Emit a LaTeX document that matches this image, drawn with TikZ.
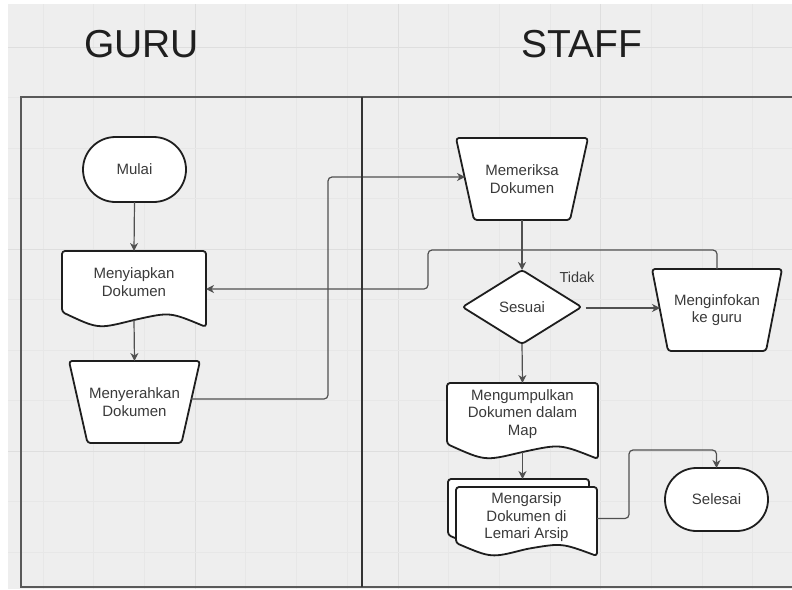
\documentclass[tikz,border=0pt]{standalone}
\usepackage{fontspec}
\setmainfont{Liberation Sans}
\usetikzlibrary{arrows.meta,calc,shapes.misc}

\pgfdeclarelayer{canvas}
\pgfdeclarelayer{outlines}
\pgfsetlayers{canvas,outlines,main}

\definecolor{canvasbg}{HTML}{EEEEEE}
\definecolor{gridminor}{HTML}{E7E7E7}
\definecolor{gridmajor}{HTML}{DEDEDE}
\definecolor{ink}{HTML}{1E1E1E}
\definecolor{txtgray}{HTML}{3A3A3A}
\definecolor{wire}{HTML}{505050}

% outline of a flowchart "document" box spanned by node #1; #2 = rise of the left end
\newcommand\docoutline[2]{%
  (#1.north west) -- (#1.north east) -- (#1.south east)
  .. controls ($(#1.south east)!0.25!(#1.south west)+(0pt,#2)$) .. ($(#1.south)+(0pt,7pt)$)
  .. controls ($(#1.south east)!0.75!(#1.south west)+(0pt,-2pt)$) .. ($(#1.south west)+(0pt,#2)$)
  -- cycle}
% outline of a "manual operation" box (wide top) spanned by node #1; #2 = inset at the bottom
\newcommand\trapoutline[2]{%
  (#1.north west) -- (#1.north east) -- ([xshift=-#2]#1.south east)
  -- ([xshift=#2]#1.south west) -- cycle}
% outline of a decision diamond spanned by node #1
\newcommand\diaoutline[1]{(#1.north) -- (#1.east) -- (#1.south) -- (#1.west) -- cycle}

\tikzset{
  holder/.style={rectangle, inner sep=0pt, outer sep=0pt},
  lbl/.style={inner sep=0pt, outer sep=0pt, text=txtgray, align=center,
    font=\fontsize{15}{17.5}\selectfont},
  terminal/.style={rounded rectangle, draw=ink, line width=1.8pt, fill=white,
    inner sep=0pt, outer sep=0pt, text=txtgray, font=\fontsize{15}{17.5}\selectfont,
    minimum width=103pt, minimum height=#1},
  outline/.style={draw=ink, line width=1.8pt, fill=white, rounded corners=3pt, line join=round},
  conn/.style={draw=wire, line width=1.2pt, rounded corners=4pt,
    -{Stealth[length=8pt,width=8pt,inset=2.5pt]}},
  lane/.style={draw=black!65, line width=1.4pt},
  divider/.style={draw=black!80, line width=2pt},
  title/.style={inner sep=0pt, text=black!88, font=\fontsize{39}{44}\selectfont},
}

\begin{document}
\begin{tikzpicture}[x=1pt,y=-1pt]
\useasboundingbox (0,0) rectangle (792,589);

% drawing canvas with its grid
\begin{pgfonlayer}{canvas}
  \fill[white] (0,0) rectangle (792,589);
  \fill[canvasbg] (8,4) rectangle (792,589);
  \foreach \i in {0,...,14}{
    \pgfmathsetmacro\gx{43+50.7*\i}
    \pgfmathtruncatemacro\gm{mod(\i,4)}
    \ifnum\gm=3 \def\gc{gridmajor}\else\def\gc{gridminor}\fi
    \draw[\gc, line width=0.8pt] (\gx,4) -- (\gx,589);
  }
  \foreach \j in {0,...,10}{
    \pgfmathsetmacro\gy{47+50.5*\j}
    \pgfmathtruncatemacro\gm{mod(\j,4)}
    \ifnum\gm=0 \def\gc{gridmajor}\else\def\gc{gridminor}\fi
    \draw[\gc, line width=0.8pt] (8,\gy) -- (792,\gy);
  }
\end{pgfonlayer}

% lane titles
\node[title] (guru) at (141.5,44) {GURU};
\node[title] (staff) at (582,44) {STAFF};

% GURU lane
\node[terminal=65pt] (mulai) at (134.5,169.5) {Mulai};
\node[holder, minimum width=144pt, minimum height=76pt] (siap) at (134,289) {};
\node[lbl] (siap-t) at ([yshift=7pt]siap.center) {Menyiapkan\\Dokumen};
\node[holder, lbl, minimum width=131pt, minimum height=82pt] (serah) at (134.5,402) {Menyerahkan\\Dokumen};

% STAFF lane
\node[holder, lbl, minimum width=132pt, minimum height=82pt] (periksa) at (522,179) {Memeriksa\\Dokumen};
\node[holder, lbl, minimum width=119pt, minimum height=74pt] (sesuai) at (522,307) {Sesuai};
\node[holder, lbl, minimum width=130pt, minimum height=82pt] (info) at (717,310) {Menginfokan\\ke guru};
\node[holder, minimum width=151pt, minimum height=76pt] (kumpul) at (522.5,421) {};
\node[lbl] (kumpul-t) at ([yshift=7pt]kumpul.center) {Mengumpulkan\\Dokumen dalam\\Map};
\node[holder, minimum width=141pt, minimum height=69pt] (arsip) at (526.5,521.5) {};
\node[holder, minimum width=141pt, minimum height=69pt] (arsipbk) at (518.5,513.5) {};
\node[lbl] (arsip-t) at ([yshift=4pt]arsip.center) {Mengarsip\\Dokumen di\\Lemari Arsip};
\node[terminal=63pt] (selesai) at (716.5,499.5) {Selesai};
\node[lbl, font=\fontsize{14.5}{17}\selectfont] (tidak) at (577,277) {Tidak};

% symbol outlines, under the texts
\begin{pgfonlayer}{outlines}
  \draw[outline] \docoutline{siap}{15pt};
  \draw[outline] \trapoutline{serah}{18.5pt};
  \draw[outline] \trapoutline{periksa}{18pt};
  \draw[outline] \diaoutline{sesuai};
  \draw[outline] \trapoutline{info}{16pt};
  \draw[outline] \docoutline{kumpul}{15pt};
  \draw[outline] \docoutline{arsipbk}{13pt};
  \draw[outline] \docoutline{arsip}{13pt};
\end{pgfonlayer}

% connectors
\coordinate (serahE) at ([xshift=-9pt,yshift=3pt]serah.east);
\coordinate (periksaW) at ([xshift=9pt,yshift=2pt]periksa.west);
\coordinate (hop1) at (328,177);
\coordinate (infoW) at ([xshift=8pt,yshift=2pt]info.west);
\coordinate (hop2) at (428,250);
\coordinate (kumpulB) at ([yshift=7pt]kumpul.south);
\coordinate (arsipE) at ([yshift=3pt]arsip.east);
\coordinate (hop3) at (629,450);

\draw[conn] (mulai.south) -- (siap.north);
\draw[conn] ([yshift=7pt]siap.south) -- (serah.north);
\draw[conn] (serahE) -| (hop1) -- (periksaW);
\draw[conn] (periksa.south) -- (sesuai.north);
\draw[conn, shorten <=4pt] (sesuai.east |- infoW) -- (infoW);
\draw[conn] (info.north) |- (hop2) |- (siap.east);
\draw[conn] (sesuai.south) -- (kumpul.north);
\draw[conn] (kumpulB) -- (kumpulB |- arsipbk.north);
\draw[conn] (arsipE) -| (hop3) -| (selesai.north);

% swimlane frame
\draw[lane] (792,97) -- (21,97) -- (21,587) -- (792,587);
\draw[divider] (362,97) -- (362,587);
\end{tikzpicture}
\end{document}
